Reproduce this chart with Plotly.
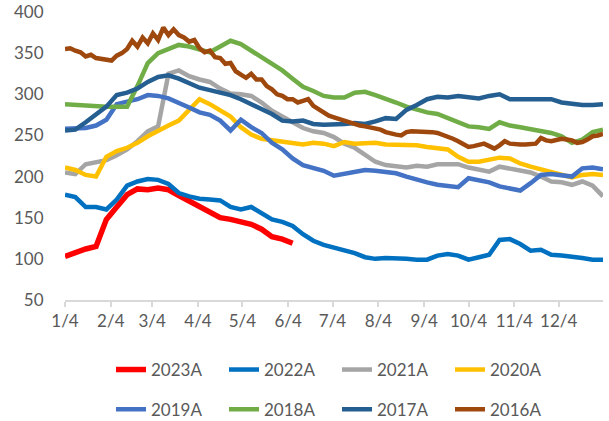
import plotly.graph_objects as go
import pandas as pd

# weekly sampling dates (one calendar year, axis labelled on the 4th of each month)
weeks = [d.strftime("%Y-%m-%d") for d in pd.date_range("2023-01-04", periods=53, freq="7D")]
half_weeks = [d.strftime("%Y-%m-%d %H:%M") for d in pd.date_range("2023-01-04", periods=105, freq="84h")]

tick_dates = ["2023-%02d-04" % m for m in range(1, 13)]
tick_labels = ["1/4", "2/4", "3/4", "4/4", "5/4", "6/4", "7/4", "8/4", "9/4", "10/4", "11/4", "12/4"]

v2023 = [103, 108, 112, 115, 148, 163, 178, 185, 184, 186, 184, 177, 170, 164, 157, 150, 148, 145, 142, 136,
         127, 124, 119]
v2022 = [178, 175, 163, 163, 160, 172, 189, 194, 197, 196, 191, 180, 176, 173, 172, 171, 163, 160, 163, 155,
         148, 145, 140, 130, 122, 117, 114, 111, 107, 102, 100, 101, 101, 100, 99, 99, 104, 106, 104, 99,
         102, 105, 123, 124, 118, 110, 111, 105, 104, 103, 101, 99, 99]
v2021 = [205, 203, 215, 218, 220, 226, 233, 243, 255, 261, 325, 329, 322, 318, 315, 307, 301, 300, 298, 290,
         280, 273, 266, 259, 255, 253, 248, 240, 235, 226, 218, 214, 213, 211, 213, 212, 215, 215, 215, 211,
         209, 206, 212, 210, 207, 205, 200, 194, 193, 190, 194, 189, 176]
v2020 = [211, 208, 202, 200, 224, 231, 235, 241, 249, 256, 262, 268, 281, 294, 288, 281, 273, 260, 251, 246,
         244, 242, 240, 239, 241, 240, 237, 242, 240, 240, 241, 239, 239, 239, 238, 236, 235, 233, 224, 218,
         218, 221, 223, 222, 216, 212, 209, 206, 202, 199, 202, 203, 202]
v2019 = [258, 259, 259, 262, 269, 288, 291, 294, 299, 298, 295, 290, 284, 278, 275, 268, 256, 269, 260, 253,
         241, 233, 222, 214, 210, 207, 201, 203, 205, 208, 207, 205, 204, 200, 196, 193, 190, 188, 187, 198,
         196, 193, 188, 185, 183, 192, 202, 203, 202, 200, 210, 211, 209]
v2018 = [288, 287, 287, 286, 285, 285, 285, 310, 338, 350, 355, 360, 358, 354, 351, 358, 365, 361, 353, 344,
         337, 329, 319, 309, 304, 298, 296, 296, 302, 303, 299, 295, 290, 285, 281, 278, 276, 271, 266, 261,
         260, 258, 266, 262, 260, 258, 256, 253, 249, 241, 245, 254, 257]
v2017 = [256, 257, 266, 275, 285, 299, 302, 307, 315, 321, 323, 319, 313, 308, 305, 302, 299, 294, 288, 282,
         276, 268, 267, 268, 264, 263, 263, 264, 265, 264, 267, 271, 270, 281, 287, 294, 297, 296, 298, 297,
         295, 298, 300, 294, 294, 295, 294, 294, 290, 288, 287, 287, 288]
v2016 = [355, 356, 353, 351, 346, 348, 344, 343, 341, 341, 347, 350, 355, 365, 358, 369, 362, 374, 366, 381,
         372, 379, 372, 369, 364, 366, 356, 351, 353, 345, 344, 337, 338, 328, 324, 320, 325, 318, 318, 310,
         306, 300, 298, 294, 294, 290, 292, 294, 286, 282, 279, 274,
         272, 270, 268, 266, 263, 262, 261, 260, 258, 257, 254, 252, 251, 250, 254, 255, 255, 255, 254, 254,
         253, 251, 249, 246, 243, 240, 236, 237, 238, 240, 237, 234, 238, 243, 240, 239, 239, 239, 239, 240,
         247, 244, 243, 245, 246, 245, 244, 241, 242, 245, 249, 250, 252]

series_names = ["2023A", "2022A", "2021A", "2020A", "2019A", "2018A", "2017A", "2016A"]
series_values = [v2023, v2022, v2021, v2020, v2019, v2018, v2017, v2016]
series_dates = [weeks[:len(v2023)], weeks, weeks, weeks, weeks, weeks, weeks, half_weeks]
colors = ["#FF0000", "#0070C0", "#A5A5A5", "#FFC000", "#4472C4", "#70AD47", "#255E91", "#9E480E"]

FONT = "Lato, Liberation Sans, Arial, sans-serif"
TXT = "#595959"

fig = go.Figure()
for i, (name, xs, ys, c) in enumerate(zip(series_names, series_dates, series_values, colors)):
    fig.add_trace(go.Scatter(
        x=xs, y=ys, mode="lines", name=name,
        line=dict(color=c, width=5.5 if i == 0 else 4.5),
        legend="legend" if i < 4 else "legend2",
        hoverinfo="skip",
    ))

legend_common = dict(orientation="h", xanchor="left", yanchor="middle", x=0.0855,
                     entrywidth=68, entrywidthmode="pixels",
                     font=dict(family=FONT, size=17, color=TXT),
                     bgcolor="rgba(0,0,0,0)", borderwidth=0, traceorder="normal")

fig.update_layout(
    width=609, height=421,
    margin=dict(l=65, r=6, t=12, b=121, autoexpand=False),
    paper_bgcolor="white", plot_bgcolor="white",
    font=dict(family=FONT, size=17, color=TXT),
    showlegend=True,
    hovermode=False,
    xaxis=dict(type="date", range=[weeks[0], weeks[-1]], automargin=False,
               tickvals=tick_dates, ticktext=tick_labels,
               showgrid=False, zeroline=False,
               showline=True, linecolor="#D9D9D9", linewidth=1.5,
               ticks="outside", ticklen=5, tickwidth=1.5, tickcolor="#D9D9D9",
               tickfont=dict(family=FONT, size=17, color=TXT)),
    yaxis=dict(range=[50, 400], tick0=50, dtick=50, automargin=False,
               showgrid=False, zeroline=False, showline=False,
               ticks="outside", ticklen=17, tickcolor="rgba(0,0,0,0)",
               tickfont=dict(family=FONT, size=17, color=TXT)),
    legend=dict(legend_common, y=-0.243),
    legend2=dict(legend_common, y=-0.381),
)

fig.write_html("out.html", config={"displayModeBar": False},
               post_script="document.body.style.margin='0';document.body.style.overflow='hidden';")
